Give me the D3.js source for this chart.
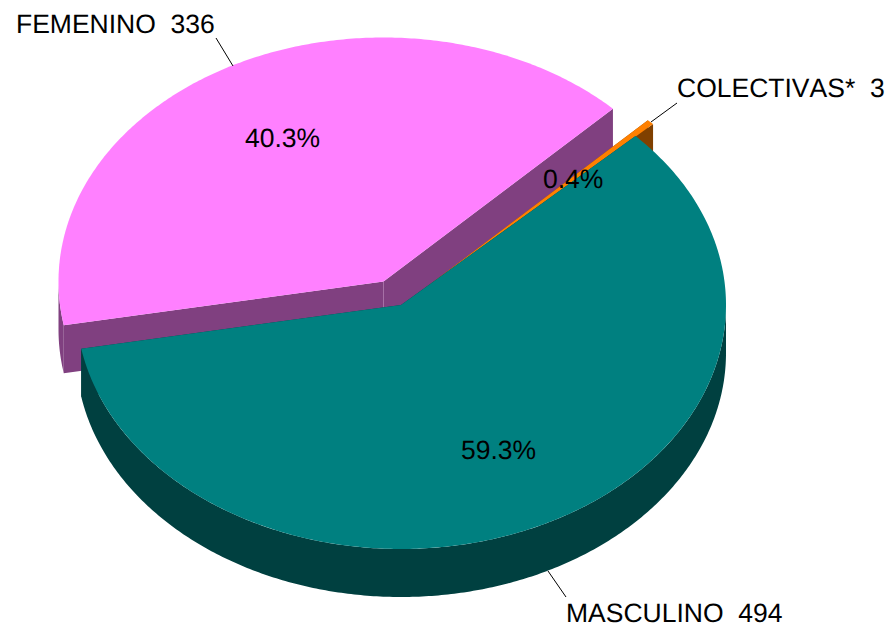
<!DOCTYPE html>
<html>
<head>
<meta charset="utf-8">
<script src="https://cdn.jsdelivr.net/npm/d3@7/dist/d3.min.js"></script>
<style>
html,body{margin:0;padding:0;background:#fff;overflow:hidden}
svg{display:block}
text{font-family:"Liberation Sans",Arial,sans-serif;font-size:26.5px;fill:#000;white-space:pre;font-kerning:none;text-rendering:geometricPrecision}
</style>
</head>
<body>
<div id="chart"></div>
<script>
// Data (in pie order, clockwise)
const categories = ["COLECTIVAS*", "MASCULINO", "FEMENINO"];
const counts = [3, 494, 336];
const percentLabels = ["0.4%", "59.3%", "40.3%"];
const topColors = ["#FF8000", "#008080", "#FF80FF"];
const sideColors = ["#804000", "#004040", "#804080"];

// Layout
const W = 890, H = 624;
const RX = 325, RY = 244, DEPTH = 48;
const START = 44.9 * Math.PI / 180;
const centers = [[418.5, 293], [401, 305], [383.5, 281.5]];
const drawOrder = [2, 0, 1];
const nameLabels = [
  {x: 677, y: 97, line: [[651, 122], [677, 103]]},
  {x: 566, y: 622, line: [[548, 571], [566, 597]]},
  {x: 16, y: 33, line: [[216, 38], [233, 66]]}
];
const pctLabels = [{x: 543, y: 188}, {x: 461, y: 459}, {x: 245, y: 147}];

const svg = d3.select("#chart").append("svg").attr("width", W).attr("height", H);

const arcs = d3.pie().value(d => d).sort(null)
  .startAngle(START).endAngle(START + 2 * Math.PI)(counts);

function projector(c) {
  const sx = d3.scaleLinear().domain([-1, 1]).range([c[0] - RX, c[0] + RX]);
  const sy = d3.scaleLinear().domain([-1, 1]).range([c[1] + RY, c[1] - RY]);
  return t => [sx(Math.sin(t)), sy(Math.cos(t))];
}
function arcPoints(p, a0, a1) {
  const n = Math.max(2, Math.ceil(Math.abs(a1 - a0) / 0.01));
  return d3.range(n + 1).map(i => p(a0 + (a1 - a0) * i / n));
}
const line = d3.line();
const shift = pts => pts.map(q => [q[0], q[1] + DEPTH]);

drawOrder.forEach(i => {
  const a = arcs[i], c = centers[i], p = projector(c);
  const g = svg.append("g").attr("class", "slice");

  // cut faces
  [a.startAngle, a.endAngle].forEach(t => {
    const edge = [c, p(t)];
    g.append("path")
      .attr("d", line(edge.concat(shift(edge).reverse())) + "Z")
      .attr("fill", sideColors[i]);
  });
  // thin highlight on the vertical inner edge of the exploded slice
  if (i === 2) {
    g.append("path").attr("d", line([c, [c[0], c[1] + DEPTH]]))
      .attr("stroke", "#A670A6").attr("stroke-width", 1).attr("fill", "none");
  }
  // outer rim: only the part facing the viewer (PI/2 .. 3PI/2, modulo a turn)
  const lo = Math.PI / 2, hi = 3 * Math.PI / 2;
  const a0 = Math.max(a.startAngle, lo), a1 = Math.min(a.endAngle, hi);
  if (a1 > a0) {
    const rim = arcPoints(p, a0, a1);
    g.append("path")
      .attr("d", line(rim.concat(shift(rim).reverse())) + "Z")
      .attr("fill", sideColors[i]);
  }
  // top surface
  g.append("path")
    .attr("d", line([c].concat(arcPoints(p, a.startAngle, a.endAngle))) + "Z")
    .attr("fill", topColors[i]);
});

// leader lines
svg.append("g").selectAll("path").data(nameLabels).join("path")
  .attr("d", d => line(d.line))
  .attr("stroke", "#000").attr("stroke-width", 1).attr("fill", "none");

// name labels
svg.append("g").selectAll("text").data(categories).join("text")
  .attr("x", (d, i) => nameLabels[i].x)
  .attr("y", (d, i) => nameLabels[i].y)
  .attr("xml:space", "preserve")
  .text((d, i) => d + "  " + counts[i]);

// percent labels
svg.append("g").selectAll("text").data(percentLabels).join("text")
  .attr("x", (d, i) => pctLabels[i].x)
  .attr("y", (d, i) => pctLabels[i].y)
  .text(d => d);
</script>
</body>
</html>
